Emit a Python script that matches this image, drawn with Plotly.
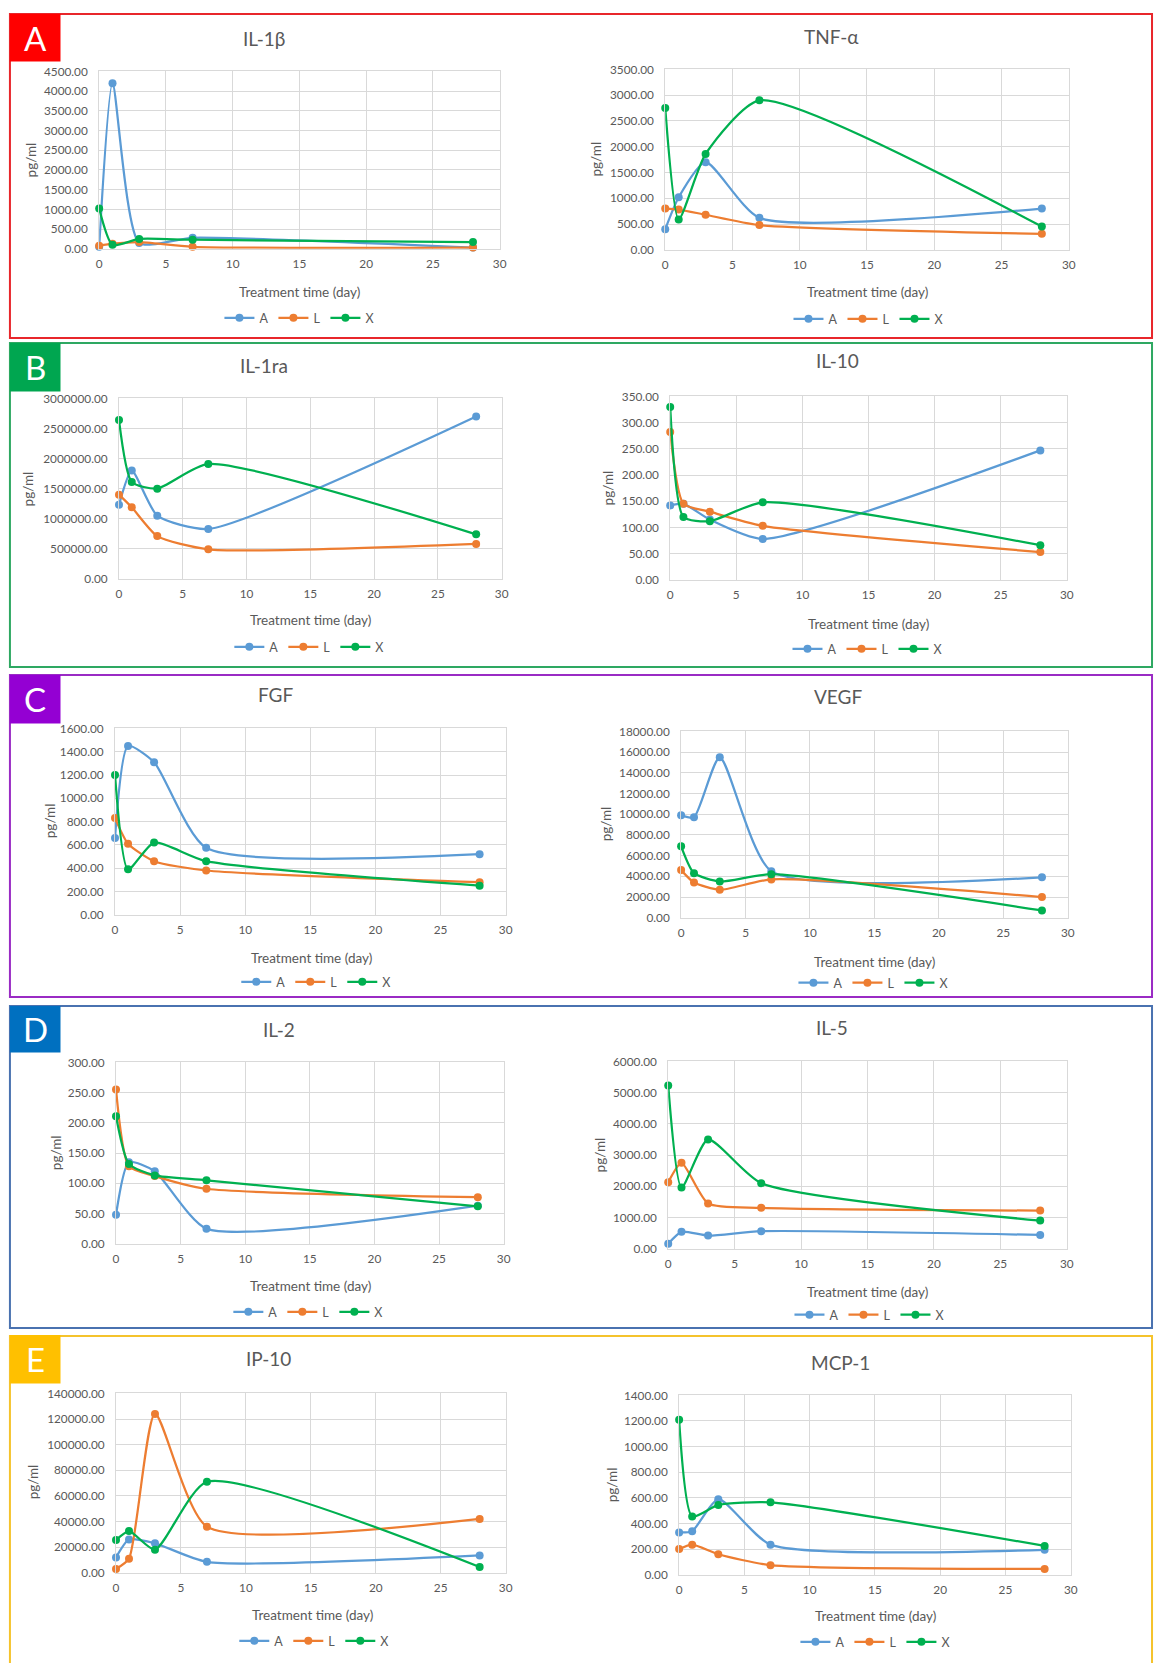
import plotly.graph_objects as go

# ---------------- data ----------------
days = [0, 1, 3, 7, 28]
series_names = ["A", "L", "X"]
series_colors = ["#5B9BD5", "#ED7D31", "#00B050"]

il1b_A = [50, 4200, 150, 280, 30]
il1b_L = [80, 130, 170, 50, 30]
il1b_X = [1020, 100, 250, 230, 170]

tnfa_A = [400, 1020, 1700, 620, 800]
tnfa_L = [800, 780, 680, 480, 310]
tnfa_X = [2750, 590, 1860, 2900, 450]

il1ra_A = [1230000, 1800000, 1050000, 830000, 2700000]
il1ra_L = [1400000, 1190000, 710000, 490000, 580000]
il1ra_X = [2640000, 1610000, 1500000, 1910000, 740000]

il10_A = [142, 145, 115, 78, 247]
il10_L = [282, 145, 130, 103, 53]
il10_X = [330, 120, 112, 148, 66]

fgf_A = [660, 1450, 1310, 575, 520]
fgf_L = [830, 610, 460, 380, 280]
fgf_X = [1200, 390, 620, 460, 250]

vegf_A = [9900, 9700, 15500, 4500, 3900]
vegf_L = [4600, 3400, 2700, 3700, 2000]
vegf_X = [6900, 4300, 3500, 4200, 700]

il2_A = [48, 135, 120, 25, 63]
il2_L = [255, 128, 112, 91, 77]
il2_X = [211, 132, 113, 105, 62]

il5_A = [160, 540, 420, 560, 440]
il5_L = [2130, 2750, 1450, 1310, 1220]
il5_X = [5230, 1960, 3500, 2100, 900]

ip10_A = [12000, 26000, 23000, 8500, 13500]
ip10_L = [3000, 11000, 124000, 36000, 42000]
ip10_X = [25500, 32500, 18000, 71000, 4500]

mcp1_A = [330, 340, 590, 235, 195]
mcp1_L = [200, 235, 160, 75, 45]
mcp1_X = [1210, 455, 545, 565, 225]

panel_titles = ["IL-1β", "TNF-α", "IL-1ra", "IL-10", "FGF", "VEGF", "IL-2", "IL-5", "IP-10", "MCP-1"]
panel_series = [
    (il1b_A, il1b_L, il1b_X), (tnfa_A, tnfa_L, tnfa_X),
    (il1ra_A, il1ra_L, il1ra_X), (il10_A, il10_L, il10_X),
    (fgf_A, fgf_L, fgf_X), (vegf_A, vegf_L, vegf_X),
    (il2_A, il2_L, il2_X), (il5_A, il5_L, il5_X),
    (ip10_A, ip10_L, ip10_X), (mcp1_A, mcp1_L, mcp1_X),
]
y_max = [4500, 3500, 3000000, 350, 1600, 18000, 300, 6000, 140000, 1400]
y_step = [500, 500, 500000, 50, 200, 2000, 50, 1000, 20000, 200]
x_max = 30
x_step = 5
x_title = "Treatment time (day)"
y_title = "pg/ml"

group_letters = ["A", "B", "C", "D", "E"]
group_colors = ["#FF0000", "#00A650", "#9400D3", "#0070C0", "#FFC000"]
border_colors = ["#E8262B", "#2EA862", "#9A2BC4", "#4A72B0", "#F5C32C"]

# ---------------- layout (pixels) ----------------
W, H = 1161, 1663
# plot area boxes: x0, x1, y0(top), y1(bottom)
plot_boxes = [
    (97, 501, 64, 243), (668, 1075, 62, 244),
    (117, 503, 394, 576), (673, 1073, 392, 577),
    (113, 507, 727, 915), (684, 1074, 730, 918),
    (114, 505, 1064, 1247), (671, 1073, 1063, 1252),
    (114, 507, 1398, 1579), (682, 1077, 1400, 1581),
]
title_pos = [(263, 31), (836, 29), (263, 361), (842, 356), (275, 693),
             (842, 695), (278, 1031), (836, 1029), (268, 1363), (845, 1367)]
xtitle_pos = [(299, 287), (872, 287), (310, 618), (873, 622), (311, 959),
              (879, 963), (310, 1290), (872, 1296), (312, 1622), (880, 1623)]
ytitle_pos = [(28, 153), (598, 152), (25, 485), (610, 484), (47, 820),
              (608, 823), (53, 1155), (602, 1157), (30, 1487), (614, 1490)]
legend_pos = [(299, 313), (873, 314), (309, 645), (872, 647), (316, 983),
              (878, 984), (308, 1316), (874, 1319), (314, 1648), (880, 1649)]
group_boxes = [(6, 333), (338, 665), (673, 998), (1007, 1332), (1340, 1700)]
label_boxes = [(6, 54), (338, 387), (673, 722), (1007, 1054), (1339, 1388)]

FONT = "Lato, 'Open Sans', sans-serif"
GREY = "#595959"
SMOOTH = 0.6
TICK_SIZE = 11.8


def fx(v):
    return v / W


def fy(v):
    return 1 - v / H


fig = go.Figure()
layout = dict(
    width=W, height=H, margin=dict(l=0, r=0, t=0, b=0),
    paper_bgcolor="white", plot_bgcolor="white",
    font=dict(family=FONT, color=GREY, size=12),
    showlegend=True,
)
annotations = []
shapes = []

for i in range(10):
    n = i + 1
    xa = "xaxis" if n == 1 else f"xaxis{n}"
    ya = "yaxis" if n == 1 else f"yaxis{n}"
    xr = "x" if n == 1 else f"x{n}"
    yr = "y" if n == 1 else f"y{n}"
    lg = "legend" if n == 1 else f"legend{n}"
    x0, x1, y0, y1 = plot_boxes[i]
    layout[xa] = dict(
        domain=[fx(x0), fx(x1)], anchor=yr, range=[0, x_max], dtick=x_step, tick0=0,
        showgrid=True, gridcolor="#D9D9D9", gridwidth=1, zeroline=False,
        showline=True, linecolor="#D9D9D9", mirror=True, ticks="", ticklabelstandoff=4,
        tickfont=dict(family=FONT, size=TICK_SIZE, color=GREY),
    )
    layout[ya] = dict(
        domain=[fy(y1), fy(y0)], anchor=xr, range=[0, y_max[i]], dtick=y_step[i], tick0=0,
        tickformat=".2f", showgrid=True, gridcolor="#D9D9D9", gridwidth=1, zeroline=False,
        showline=True, linecolor="#D9D9D9", mirror=True, ticks="", ticklabelstandoff=8,
        tickfont=dict(family=FONT, size=TICK_SIZE, color=GREY),
    )
    lx, ly = legend_pos[i]
    layout[lg] = dict(
        orientation="h", x=fx(lx), y=fy(ly), xanchor="center", yanchor="middle",
        font=dict(family=FONT, size=12.5, color=GREY), bgcolor="rgba(0,0,0,0)",
        itemwidth=30, tracegroupgap=0, itemclick=False,
    )
    for s in range(3):
        fig.add_trace(go.Scatter(
            x=days, y=panel_series[i][s], name=series_names[s],
            mode="lines+markers",
            line=dict(color=series_colors[s], width=2.25, shape="spline", smoothing=SMOOTH),
            marker=dict(color=series_colors[s], size=8),
            xaxis=xr, yaxis=yr, legend=lg, cliponaxis=False,
        ))
    tx, ty = title_pos[i]
    annotations.append(dict(text=panel_titles[i], x=fx(tx), y=fy(ty), xref="paper", yref="paper",
                            xanchor="center", yanchor="middle", showarrow=False,
                            font=dict(family=FONT, size=19, color=GREY)))
    tx, ty = xtitle_pos[i]
    annotations.append(dict(text=x_title, x=fx(tx), y=fy(ty), xref="paper", yref="paper",
                            xanchor="center", yanchor="middle", showarrow=False,
                            font=dict(family=FONT, size=13.5, color=GREY)))
    tx, ty = ytitle_pos[i]
    annotations.append(dict(text=y_title, x=fx(tx), y=fy(ty), xref="paper", yref="paper",
                            xanchor="center", yanchor="middle", showarrow=False, textangle=-90,
                            font=dict(family=FONT, size=13.5, color=GREY)))

for g in range(5):
    gy0, gy1 = group_boxes[g]
    shapes.append(dict(type="rect", xref="paper", yref="paper", x0=fx(7), x1=fx(1159),
                       y0=fy(gy1), y1=fy(gy0), line=dict(color=border_colors[g], width=2),
                       fillcolor="rgba(0,0,0,0)", layer="below"))
    ly0, ly1 = label_boxes[g]
    shapes.append(dict(type="rect", xref="paper", yref="paper", x0=fx(7), x1=fx(58),
                       y0=fy(ly1), y1=fy(ly0), line=dict(width=0),
                       fillcolor=group_colors[g], layer="above"))
    annotations.append(dict(text=group_letters[g], x=fx(32.5), y=fy((ly0 + ly1) / 2),
                            xref="paper", yref="paper", xanchor="center", yanchor="middle",
                            showarrow=False, font=dict(family=FONT, size=33, color="white")))

layout["annotations"] = annotations
layout["shapes"] = shapes
fig.update_layout(**layout)

fig.write_html("out.html", config={"displayModeBar": False},
               post_script="document.body.style.margin='0px';document.body.style.overflow='hidden';")
